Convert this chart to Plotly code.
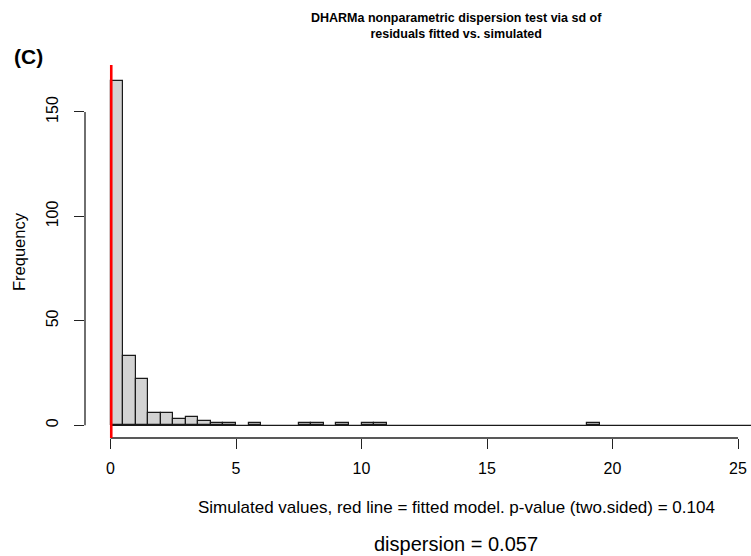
import plotly.graph_objects as go

# Histogram of simulated dispersion statistics (bin width 0.5)
bin_start = [0, 0.5, 1, 1.5, 2, 2.5, 3, 3.5, 4, 4.5, 5.5, 7.5, 8, 9, 10, 10.5, 19]
counts = [165, 33, 22, 6, 6, 3, 4, 2, 1, 1, 1, 1, 1, 1, 1, 1, 1]
bin_width = 0.5
observed = 0.03
x_ticks = [0, 5, 10, 15, 20, 25]
y_ticks = [0, 50, 100, 150]

title_txt = "DHARMa nonparametric dispersion test via sd of<br>residuals fitted vs. simulated"
xlab = "Simulated values, red line = fitted model. p-value (two.sided) = 0.104"
sub = "dispersion = 0.057"
ylab = "Frequency"
panel = "(C)"

W, H = 751, 556
L, R, T, B = 85, 751, 65, 438  # plot region in pixels
x0px, xscale = 110.5, 25.1     # pixel of x=0, px per unit
y0px, yscale = 425.3, 2.089    # pixel of y=0, px per unit

xr = [(L - x0px) / xscale, (R - x0px) / xscale]
yr = [-(B - y0px) / yscale, (y0px - T) / yscale]

def px(xp):
    return (xp - L) / (R - L)

def py(yp):
    return (B - yp) / (B - T)

FONT = "Liberation Sans, Arial, sans-serif"

fig = go.Figure()
fig.add_trace(go.Bar(
    x=[s + bin_width / 2 for s in bin_start],
    y=counts,
    width=bin_width,
    marker=dict(color="#D3D3D3", line=dict(color="#1a1a1a", width=1.2)),
    showlegend=False,
    hoverinfo="x+y",
))

shapes = [
    # baseline of histogram (empty bins)
    dict(type="line", xref="x", yref="y", x0=0, x1=xr[1], y0=0, y1=0,
         line=dict(color="#1a1a1a", width=1.2)),
    # x axis line
    dict(type="line", xref="x", yref="paper", x0=x_ticks[0], x1=x_ticks[-1], y0=0, y1=0,
         line=dict(color="#222", width=1.3)),
    # y axis line
    dict(type="line", xref="paper", yref="y", x0=0, x1=0, y0=y_ticks[0], y1=y_ticks[-1],
         line=dict(color="#222", width=1.3)),
    # observed value
    dict(type="line", xref="x", yref="paper", x0=observed, x1=observed, y0=0, y1=1,
         line=dict(color="#FF0000", width=2.6)),
]

annotations = [
    dict(text="<b>" + title_txt + "</b>", xref="paper", yref="paper", x=px(457), y=py(25.5),
         xanchor="center", yanchor="middle", showarrow=False,
         font=dict(family=FONT, size=12.5, color="#000")),
    dict(text="<b>" + panel + "</b>", xref="paper", yref="paper", x=px(28), y=py(57),
         xanchor="center", yanchor="middle", showarrow=False,
         font=dict(family=FONT, size=21, color="#000")),
    dict(text=xlab, xref="paper", yref="paper", x=px(456.5), y=py(508),
         xanchor="center", yanchor="middle", showarrow=False,
         font=dict(family=FONT, size=17, color="#000")),
    dict(text=sub, xref="paper", yref="paper", x=px(456), y=py(544),
         xanchor="center", yanchor="middle", showarrow=False,
         font=dict(family=FONT, size=20, color="#000")),
    dict(text=ylab, xref="paper", yref="paper", x=px(18.5), y=py(251.5),
         xanchor="center", yanchor="middle", showarrow=False, textangle=-90,
         font=dict(family=FONT, size=16.5, color="#000")),
]

fig.update_layout(
    width=W, height=H,
    margin=dict(l=L, r=W - R, t=T, b=H - B, pad=0),
    paper_bgcolor="white", plot_bgcolor="white",
    shapes=shapes, annotations=annotations,
    bargap=0,
    font=dict(family=FONT, color="#000"),
    xaxis=dict(range=xr, showgrid=False, zeroline=False, showline=False,
               tickmode="array", tickvals=x_ticks, ticks="outside", ticklen=10,
               tickwidth=1.3, tickcolor="#222", tickfont=dict(size=16, family=FONT, color="#000"),
               ticklabelstandoff=6, fixedrange=True),
    yaxis=dict(range=yr, showgrid=False, zeroline=False, showline=False,
               tickmode="array", tickvals=y_ticks, ticks="outside", ticklen=10,
               tickwidth=1.3, tickcolor="#222", tickangle=-90,
               tickfont=dict(size=16, family=FONT, color="#000"),
               ticklabelstandoff=10, fixedrange=True),
)

fig.write_html("out.html")
